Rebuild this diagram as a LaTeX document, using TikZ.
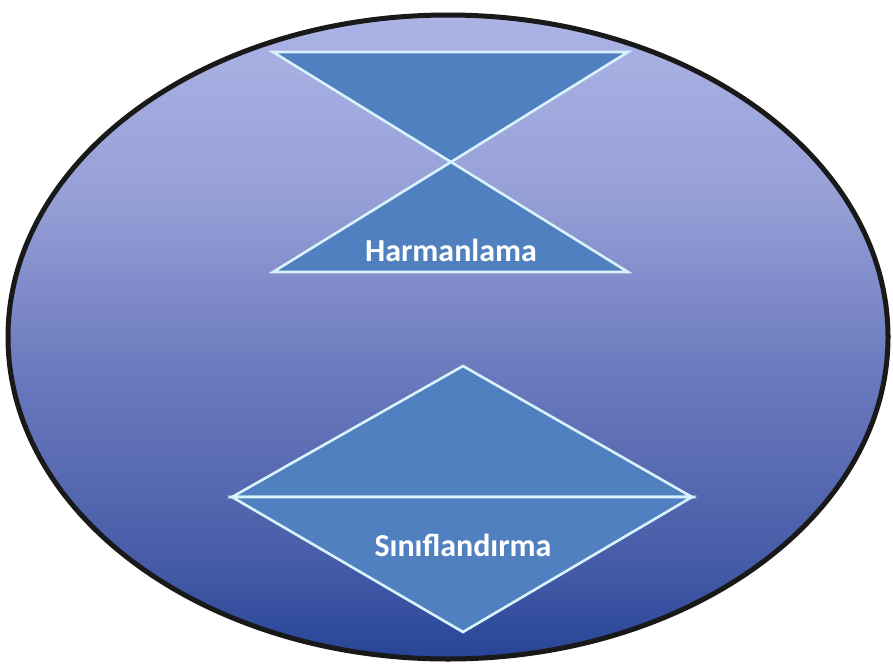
\documentclass[tikz,border=0pt]{standalone}
\usepackage{fontspec}
\setmainfont{Carlito}
\definecolor{shapeblue}{RGB}{80,128,192}
\definecolor{bgtop}{RGB}{172,180,230}
\definecolor{bgup}{RGB}{150,160,215}
\definecolor{bgmid}{RGB}{108,122,190}
\definecolor{bglow}{RGB}{70,92,168}
\definecolor{bgbot}{RGB}{38,68,150}
\pgfdeclareverticalshading{bgshade}{100bp}{color(0bp)=(bgbot); color(25bp)=(bgbot); color(32.5bp)=(bglow); color(47.5bp)=(bgmid); color(61bp)=(bgup); color(75bp)=(bgtop); color(100bp)=(bgtop)}
\begin{document}
\begin{tikzpicture}[x=1pt,y=-1pt,
  shapefill/.style={fill=shapeblue, draw=white!85!cyan, line width=2.6pt, line join=miter},
  lbl/.style={text=white, font=\bfseries\fontsize{32}{36}\selectfont, inner sep=0pt}]
\useasboundingbox (0,0) rectangle (893,664);
% background ellipse
\shade[shading=bgshade]
  (448,337) ellipse [x radius=440pt, y radius=322pt];
\draw[black!90, line width=5pt] (448,337) ellipse [x radius=440pt, y radius=322pt];
% hourglass
\coordinate (tl) at (273,52);
\coordinate (tr) at (628,52);
\coordinate (ap) at (451,162);
\coordinate (bl) at (273,272);
\coordinate (br) at (628,272);
\filldraw[shapefill] (tl) -- (tr) -- (ap) -- cycle;
\filldraw[shapefill] (bl) -- (ap) -- (br) -- cycle;
\node[lbl] (harm) at (451,250) {Harmanlama};
% diamond
\coordinate (dt) at (463,366);
\coordinate (dl) at (232,497);
\coordinate (dr) at (692,497);
\coordinate (db) at (463,632);
\filldraw[shapefill] (dl) -- (dt) -- (dr) -- cycle;
\filldraw[shapefill] (dl) -- (dr) -- (db) -- cycle;
\node[lbl] (sinif) at (463,545) {Sınıflandırma};
\end{tikzpicture}
\end{document}
